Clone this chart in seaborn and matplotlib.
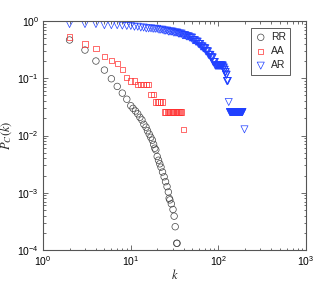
import numpy as np
import matplotlib
matplotlib.use("Agg")
import matplotlib.pyplot as plt
import seaborn as sns

# RR: read point by point
rr_k = [2, 3, 4, 5, 6, 7, 8, 9, 10, 10.6, 11.3, 12, 12.7, 13.4, 14.1, 14.9, 15.5,
        16.2, 16.9, 17.6, 18.2, 18.8, 19.3, 20.0, 20.7, 21.4, 22.1, 23.0, 24.0,
        24.9, 25.9, 26.8, 27.4, 27.9, 29.0, 30.3, 31.2, 32.1, 33.4, 33.7]
rr_p = [0.466, 0.311, 0.200, 0.139, 0.098, 0.072, 0.055, 0.043, 0.0331, 0.0298,
        0.0268, 0.0239, 0.0208, 0.0187, 0.0157, 0.0140, 0.0121, 0.0106, 0.0093,
        0.0083, 0.0070, 0.0060, 0.0056, 0.0043, 0.0037, 0.0032, 0.0028, 0.0023,
        0.0019, 0.00156, 0.00128, 0.00103, 0.00080, 0.00075, 0.00064, 0.00051,
        0.00039, 0.000255, 0.000131, 0.000131]

# AA and AR: flat runs (k from, k to, number of nodes out of 78)
n_nodes = 78
aa_from = [2, 3, 4, 5, 6, 7, 8, 9, 10, 12, 17, 19, 24, 40]
aa_to = [2, 3, 4, 5, 6, 7, 8, 9, 11, 16, 18, 23, 38, 40]
aa_cnt = [41, 31, 26, 19, 16, 14, 11, 8, 7, 6, 4, 3, 2, 1]

ar_from = [2, 5, 8, 9, 11, 13, 15, 18, 21, 24, 27, 31, 35, 39, 43, 47, 51, 55, 59,
           63, 67, 72, 77, 82, 87, 92, 113, 116, 119, 122, 125, 131, 135, 198]
ar_to = [4, 7, 8, 10, 12, 14, 17, 20, 23, 26, 30, 34, 38, 42, 46, 50, 54, 58, 62,
         66, 71, 76, 81, 86, 91, 112, 115, 118, 121, 124, 128, 131, 188, 198]
ar_cnt = [69, 66, 65, 64, 62, 60, 58, 57, 55, 53, 51, 49, 47, 44, 42, 40, 36, 34, 31,
          28, 26, 23, 20, 18, 15, 13, 12, 11, 10, 9, 7, 3, 2, 1]


def expand(k_from, k_to, cnt):
    ks, ps = [], []
    for a, b, c in zip(k_from, k_to, cnt):
        for k in range(a, b + 1):
            ks.append(k)
            ps.append(c / n_nodes)
    return ks, ps


aa_k, aa_p = expand(aa_from, aa_to, aa_cnt)
ar_k, ar_p = expand(ar_from, ar_to, ar_cnt)

sns.set_style("ticks")
plt.rcParams["font.family"] = ["Liberation Sans", "DejaVu Sans"]
plt.rcParams["mathtext.fontset"] = "stix"

fig = plt.figure(figsize=(3.32, 2.82), dpi=100)
ax = fig.add_axes([0.130, 0.1135, 0.792, 0.812])

sns.scatterplot(x=rr_k, y=rr_p, ax=ax, marker="o", s=22, color="#444444",
                facecolor="none", edgecolor="#444444", linewidth=0.5, label="RR")
sns.scatterplot(x=aa_k, y=aa_p, ax=ax, marker="s", s=14, color="#ff3030",
                facecolor="none", edgecolor="#ff3030", linewidth=0.5, label="AA")
sns.scatterplot(x=ar_k, y=ar_p, ax=ax, marker="v", s=26, color="#2040ff",
                facecolor="none", edgecolor="#2040ff", linewidth=0.5, label="AR")

ax.set_xscale("log")
ax.set_yscale("log")
ax.set_xlim(1, 1000)
ax.set_ylim(1e-4, 1)

for sp in ax.spines.values():
    sp.set_visible(True)
    sp.set_color("#555555")
    sp.set_linewidth(0.8)
ax.tick_params(which="both", direction="in", top=True, right=True,
               colors="#555555", labelcolor="black", labelsize=7.5, width=0.6)
ax.tick_params(which="major", length=3.5, pad=3)
ax.tick_params(which="minor", length=1.8)

ax.set_xlabel("$k$", fontsize=9, labelpad=0)
ax.set_ylabel("$P_C(k)$", fontsize=9, labelpad=2)

leg = ax.legend(loc="upper right", bbox_to_anchor=(0.94, 0.97), fontsize=7.5,
                frameon=True, fancybox=False, edgecolor="#333333",
                handlelength=1.0, handletextpad=0.5, labelspacing=0.4,
                borderpad=0.4, borderaxespad=0.0)
leg.get_frame().set_linewidth(0.7)

fig.savefig("out.png", dpi=100)
